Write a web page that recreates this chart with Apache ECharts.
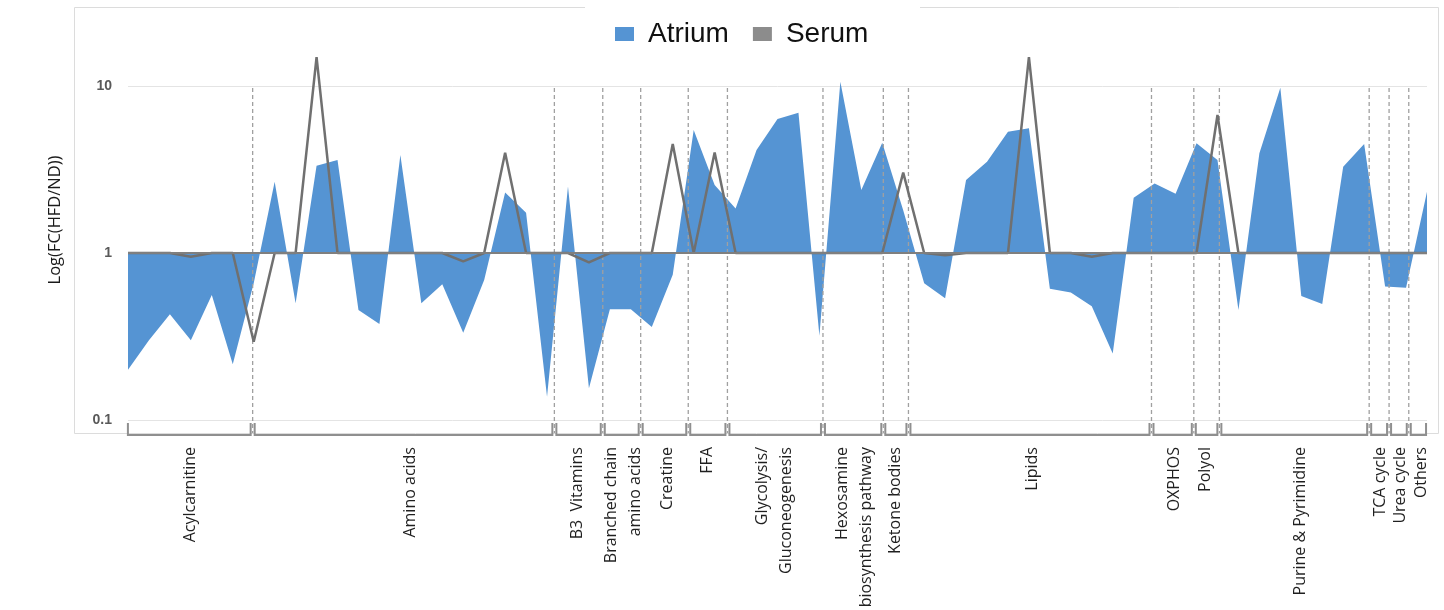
<!DOCTYPE html>
<html>
<head>
<meta charset="utf-8">
<script src="https://cdn.jsdelivr.net/npm/echarts@6/dist/echarts.min.js"></script>
<style>
html,body{margin:0;padding:0;background:#fff;}
#chart{width:1444px;height:610px;}
</style>
</head>
<body>
<div id="chart"></div>
<script>
// Atrium fold change (HFD/ND), one value per metabolite, left to right
const atrium = [
  0.20, 0.30, 0.43, 0.30, 0.56, 0.216,
  0.66, 2.67, 0.50, 3.33, 3.60, 0.456, 0.376, 3.86, 0.50, 0.65, 0.333, 0.69, 2.30, 1.74, 0.138,
  2.50, 0.155,
  0.46, 0.46,
  0.36, 0.74,
  5.45, 2.55,
  1.85, 4.14, 6.35, 6.92, 0.32,
  10.6, 2.38, 4.58,
  1.80,
  0.66, 0.535, 2.74, 3.52, 5.33, 5.58, 0.61, 0.58, 0.48, 0.25, 2.14,
  2.61, 2.26,
  4.54, 3.60,
  0.456, 3.95, 9.77, 0.553, 0.495, 3.29, 4.50,
  0.63,
  0.62,
  2.33
];
// Serum fold change (HFD/ND)
const serum = [
  1, 1, 1, 0.95, 1, 1,
  0.294, 1, 1, 14.9, 1, 1, 1, 1, 1, 1, 0.89, 1, 3.99, 1, 1,
  1, 0.88,
  1, 1,
  1, 4.5,
  1, 4.0,
  1, 1, 1, 1, 1,
  1, 1, 1,
  3.03,
  1, 0.97, 1, 1, 1, 14.9, 1, 1, 0.95, 1, 1,
  1, 1,
  1, 6.7,
  1, 1, 1, 1, 1, 1, 1,
  1,
  1,
  1
];
// Metabolite classes (category groups)
const groupNames = [
  "Acylcarnitine", "Amino acids", "B3  Vitamins", "Branched chain\namino acids", "Creatine", "FFA",
  "Glycolysis/\nGluconeogenesis", "Hexosamine\nbiosynthesis pathway", "Ketone bodies", "Lipids",
  "OXPHOS", "Polyol", "Purine & Pyrimidine", "TCA cycle", "Urea cycle", "Others"
];
// group divider positions (in metabolite-index units)
const groupStart = [-0.1, 5.95, 20.35, 22.66, 24.47, 26.74, 28.61, 33.17, 36.05, 37.25, 48.85, 50.87, 52.09, 59.24, 60.19, 61.13];
const groupEnd   = [5.95, 20.35, 22.66, 24.47, 26.74, 28.61, 33.17, 36.05, 37.25, 48.85, 50.87, 52.09, 59.24, 60.19, 61.13, 62.05];
const groupLabelPos = [2.96, 13.46, 21.43, 23.63, 25.73, 27.64, 30.84, 34.65, 36.61, 43.15, 49.93, 51.41, 55.94, 59.79, 60.74, 61.74];
const yTicks = [0.1, 1, 10];

const atriumData = atrium.map((v, i) => [i, v]);
const serumData = serum.map((v, i) => [i, v]);
const groupData = groupNames.map((n, i) => ({ name: n, value: [groupStart[i], groupEnd[i], groupLabelPos[i], 1] }));

const chart = echarts.init(document.getElementById('chart'), null, { renderer: 'canvas' });

const option = {
  backgroundColor: '#ffffff',
  animation: false,
  legend: {
    left: 615, top: 20, padding: 0,
    itemWidth: 19, itemHeight: 14, itemGap: 24,
    textStyle: { fontSize: 28, fontFamily: 'Liberation Sans, Arial', color: '#111', padding: [0, 0, 0, 9] },
    data: [
      { name: 'Atrium', icon: 'rect', itemStyle: { color: '#5594d3' } },
      { name: 'Serum', icon: 'rect', itemStyle: { color: '#8c8c8c' } }
    ]
  },
  grid: { left: 128, right: 17, top: 86, bottom: 190 },
  xAxis: { type: 'value', min: 0, max: 62, show: false },
  yAxis: {
    type: 'log', logBase: 10, min: yTicks[0], max: yTicks[yTicks.length - 1],
    axisLine: { show: false }, axisTick: { show: false },
    axisLabel: { margin: 16, fontSize: 14, fontWeight: 'bold', color: '#595959', fontFamily: 'Liberation Sans, Arial' },
    splitLine: { show: true, lineStyle: { color: '#e4e4e4', width: 1 } }
  },
  graphic: [
    { type: 'line', shape: { x1: 74.5, y1: 7.5, x2: 585, y2: 7.5 }, style: { stroke: '#dcdcdc', lineWidth: 1 }, silent: true },
    { type: 'line', shape: { x1: 920, y1: 7.5, x2: 1438.5, y2: 7.5 }, style: { stroke: '#dcdcdc', lineWidth: 1 }, silent: true },
    { type: 'line', shape: { x1: 74.5, y1: 7.5, x2: 74.5, y2: 433.5 }, style: { stroke: '#dcdcdc', lineWidth: 1 }, silent: true },
    { type: 'line', shape: { x1: 1438.5, y1: 7.5, x2: 1438.5, y2: 433.5 }, style: { stroke: '#dcdcdc', lineWidth: 1 }, silent: true },
    { type: 'line', shape: { x1: 74.5, y1: 433.5, x2: 1438.5, y2: 433.5 }, style: { stroke: '#dcdcdc', lineWidth: 1 }, silent: true },
    {
      type: 'text', x: 55, y: 220, rotation: Math.PI / 2, silent: true,
      style: { text: 'Log(FC(HFD/ND))', fontSize: 16.5, fontFamily: 'Open Sans', fill: '#1a1a1a', align: 'center', verticalAlign: 'middle' }
    }
  ],
  series: [
    {
      name: 'Atrium', type: 'line', data: atriumData, clip: false,
      showSymbol: false, symbol: 'none',
      itemStyle: { color: '#5594d3' },
      lineStyle: { width: 0, opacity: 0 },
      areaStyle: { color: '#5594d3', opacity: 1, origin: 1 },
      z: 2,
      markLine: {
        silent: true, symbol: 'none', animation: false,
        label: { show: false },
        lineStyle: { color: '#7f7f7f', width: 2, type: 'solid' },
        data: [{ yAxis: 1 }]
      }
    },
    {
      name: 'Serum', type: 'line', data: serumData, clip: false,
      showSymbol: false, symbol: 'none',
      itemStyle: { color: '#8c8c8c' },
      lineStyle: { color: '#707070', width: 2.5 },
      z: 4
    },
    {
      name: 'groups', type: 'custom', data: groupData, clip: false, silent: true, z: 3,
      encode: { x: [0, 1, 2], y: 3 },
      renderItem: function (params, api) {
        const s = api.value(0), e = api.value(1), l = api.value(2);
        const yTop = api.coord([0, 10])[1];
        const yBase = api.coord([0, 0.1])[1];
        const xs = api.coord([s, 1])[0], xe = api.coord([e, 1])[0], xl = api.coord([l, 1])[0];
        const children = [
          { type: 'polyline', shape: { points: [[xs + 2, yBase + 3], [xs + 2, yBase + 15], [xe - 2, yBase + 15], [xe - 2, yBase + 3]] },
            style: { stroke: '#8f8f8f', lineWidth: 2, fill: null } },
          { type: 'text', x: xl, y: yBase + 27, rotation: Math.PI / 2,
            style: { text: groupNames[params.dataIndex], fontSize: 16, fontFamily: 'Open Sans', fill: '#1f1f1f', align: 'right', verticalAlign: 'middle', lineHeight: 24 } }
        ];
        if (params.dataIndex < groupNames.length - 1) {
          children.push({ type: 'line', shape: { x1: xe, y1: yTop + 2, x2: xe, y2: yBase + 13 },
            style: { stroke: '#a0a0a0', lineWidth: 1.3, lineDash: [4, 3] } });
        }
        return { type: 'group', children: children };
      }
    }
  ]
};
chart.setOption(option);
</script>
</body>
</html>
